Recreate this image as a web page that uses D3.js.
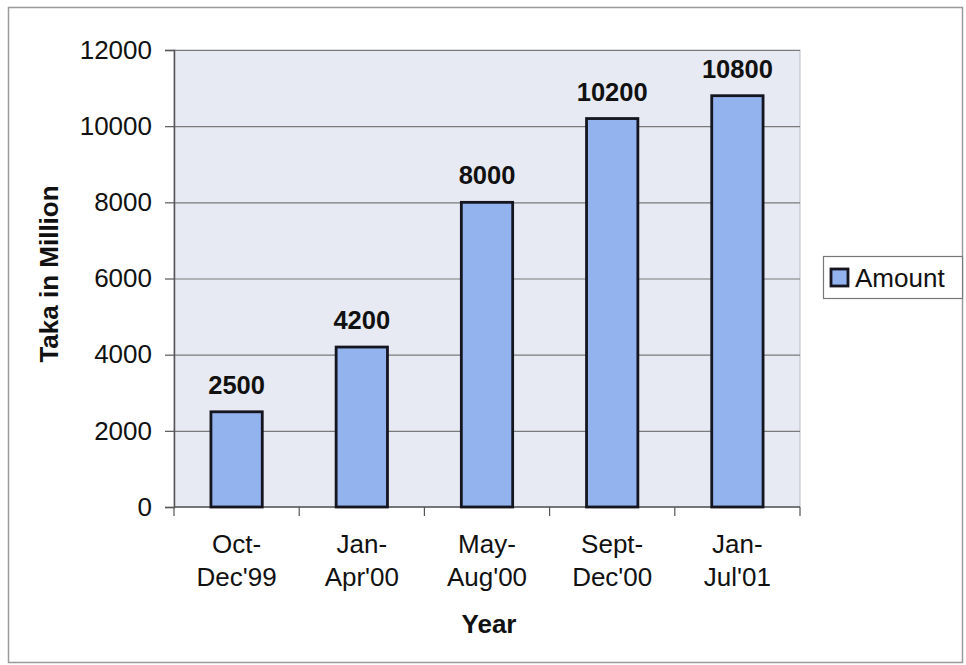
<!DOCTYPE html>
<html>
<head>
<meta charset="utf-8">
<script src="https://cdn.jsdelivr.net/npm/d3@7/dist/d3.min.js"></script>
<style>
  html, body { margin: 0; padding: 0; background: #fff; }
  svg { display: block; font-family: Arial, "Liberation Sans", Helvetica, sans-serif; }
</style>
</head>
<body>
<svg id="chart" width="966" height="665"></svg>
<script>
// Periods and amounts (Taka in million)
const categories = [["Oct-", "Dec'99"], ["Jan-", "Apr'00"], ["May-", "Aug'00"], ["Sept-", "Dec'00"], ["Jan-", "Jul'01"]];
const amounts = [2500, 4200, 8000, 10200, 10800];
const yTicks = [0, 2000, 4000, 6000, 8000, 10000, 12000];
const seriesName = "Amount";

const svg = d3.select("#chart");
const plot = { left: 174, right: 800, top: 50, bottom: 507 };

// Outer frame
svg.append("rect")
  .attr("x", 8.5).attr("y", 7.5).attr("width", 954).attr("height", 655)
  .attr("fill", "#fff").attr("stroke", "#9a9a9a").attr("stroke-width", 1.5);

const x = d3.scaleBand()
  .domain(d3.range(categories.length))
  .range([plot.left, plot.right])
  .paddingInner(0.59).paddingOuter(0.295);

const y = d3.scaleLinear().domain([0, 12000]).range([plot.bottom, plot.top]);

// Plot background
svg.append("rect")
  .attr("x", plot.left).attr("y", plot.top)
  .attr("width", plot.right - plot.left).attr("height", plot.bottom - plot.top)
  .attr("fill", "#e7eaf2").attr("stroke", "#b8bcc6").attr("stroke-width", 1);

// Horizontal gridlines
svg.append("g").selectAll("line").data(yTicks.filter(d => d > 0)).join("line")
  .attr("x1", plot.left).attr("x2", plot.right)
  .attr("y1", d => y(d) + 0.5).attr("y2", d => y(d) + 0.5)
  .attr("stroke", "#7a7a7a").attr("stroke-width", 1.2);

// Y axis
const yAxis = svg.append("g")
  .attr("transform", `translate(${plot.left},0)`)
  .call(d3.axisLeft(y).tickValues(yTicks).tickSize(9).tickPadding(13).tickFormat(d3.format("d")));
yAxis.select(".domain").attr("stroke", "#555").attr("stroke-width", 1.5);
yAxis.selectAll(".tick line").attr("stroke", "#555").attr("stroke-width", 1.2);
yAxis.selectAll(".tick text")
  .attr("font-size", 26).attr("fill", "#111")
  .attr("font-family", "Arial, 'Liberation Sans', sans-serif");

// X axis with boundary ticks between categories
const xAxis = svg.append("g").attr("transform", `translate(0,${plot.bottom})`);
xAxis.append("line")
  .attr("x1", plot.left).attr("x2", plot.right)
  .attr("stroke", "#555").attr("stroke-width", 1.5);
const step = x.step();
xAxis.selectAll("line.bound").data(d3.range(categories.length + 1)).join("line")
  .attr("class", "bound")
  .attr("x1", i => plot.left + i * step).attr("x2", i => plot.left + i * step)
  .attr("y1", 0).attr("y2", 9)
  .attr("stroke", "#555").attr("stroke-width", 1.2);

// Category labels (two lines each)
const catG = svg.append("g").selectAll("text").data(categories).join("text")
  .attr("text-anchor", "middle")
  .attr("font-size", 26).attr("fill", "#111")
  .attr("x", (d, i) => x(i) + x.bandwidth() / 2)
  .attr("y", 553);
catG.append("tspan").attr("x", (d, i) => x(i) + x.bandwidth() / 2).text(d => d[0]);
catG.append("tspan").attr("x", (d, i) => x(i) + x.bandwidth() / 2).attr("dy", 33).text(d => d[1]);

// Bars
svg.append("g").selectAll("rect").data(amounts).join("rect")
  .attr("x", (d, i) => x(i))
  .attr("y", d => y(d))
  .attr("width", x.bandwidth())
  .attr("height", d => y(0) - y(d))
  .attr("fill", "#93b3ef")
  .attr("stroke", "#15151f").attr("stroke-width", 2.8);

// Value labels
svg.append("g").selectAll("text").data(amounts).join("text")
  .attr("text-anchor", "middle")
  .attr("font-size", 25.5).attr("font-weight", "bold").attr("fill", "#111")
  .attr("x", (d, i) => x(i) + x.bandwidth() / 2)
  .attr("y", d => y(d) - 18)
  .text(d => d);

// Axis titles
svg.append("text")
  .attr("transform", `translate(58,274) rotate(-90)`)
  .attr("text-anchor", "middle")
  .attr("font-size", 26).attr("font-weight", "bold").attr("fill", "#111")
  .text("Taka in Million");

svg.append("text")
  .attr("x", 489).attr("y", 633)
  .attr("text-anchor", "middle")
  .attr("font-size", 26).attr("font-weight", "bold").attr("fill", "#111")
  .text("Year");

// Legend
const lg = svg.append("g");
lg.append("rect")
  .attr("x", 823.5).attr("y", 256.5).attr("width", 139).attr("height", 42)
  .attr("fill", "#fff").attr("stroke", "#777").attr("stroke-width", 1.2);
lg.append("rect")
  .attr("x", 831).attr("y", 269).attr("width", 17).attr("height", 17)
  .attr("fill", "#93b3ef").attr("stroke", "#15151f").attr("stroke-width", 2.8);
lg.append("text")
  .attr("x", 855).attr("y", 287)
  .attr("font-size", 26).attr("fill", "#111")
  .text(seriesName);
</script>
</body>
</html>
